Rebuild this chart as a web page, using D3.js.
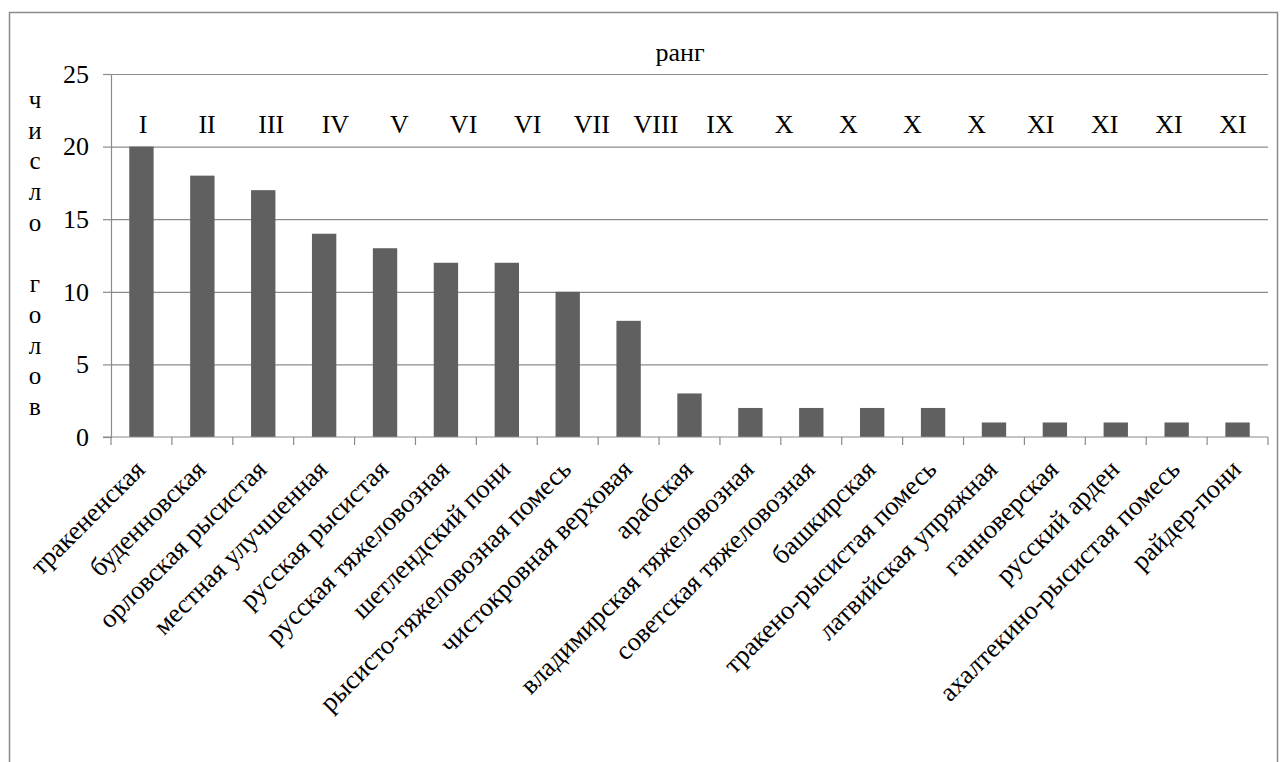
<!DOCTYPE html>
<html>
<head>
<meta charset="utf-8">
<script src="https://cdn.jsdelivr.net/npm/d3@7"></script>
<style>
    svg text { font-family: Liberation Serif, Tinos, serif; }
</style>
</head>
<body style="margin:0">
<script>
// породы лошадей
const breeds = ["тракененская", "буденновская", "орловская рысистая", "местная улучшенная",
    "русская рысистая", "русская тяжеловозная", "шетлендский пони", "рысисто-тяжеловозная помесь",
    "чистокровная верховая", "арабская", "владимирская тяжеловозная", "советская тяжеловозная",
    "башкирская", "тракено-рысистая помесь", "латвийская упряжная", "ганноверская",
    "русский арден", "ахалтекино-рысистая помесь", "райдер-пони"];
const heads = [20, 18, 17, 14, 13, 12, 12, 10, 8, 3, 2, 2, 2, 2, 1, 1, 1, 1, 1];
// строка рангов над столбцами (как напечатано)
const ranks = ["I", "II", "III", "IV", "V", "VI", "VI", "VII", "VIII", "IX",
    "X", "X", "X", "X", "XI", "XI", "XI", "XI"];
const yTicks = [0, 5, 10, 15, 20, 25];
const yLabel = "число голов";
const title = "ранг";

const W = 1286, H = 762;
const fontName = "serif";
let margin = {top: 74, right: 18, bottom: 325, left: 111},
    width = W - margin.left - margin.right,
    height = H - margin.top - margin.bottom;

let svg = d3.select("body")
    .append("svg")
        .attr("width", W)
        .attr("height", H);

// chart border
svg.append("rect")
    .attr("x", 9.5).attr("y", 12.5)
    .attr("width", 1268).attr("height", 800)
    .attr("fill", "none")
    .attr("stroke", "#8a8a8a")
    .attr("stroke-width", 1.5);

let g = svg.append("g")
    .attr("transform", "translate(" + margin.left + "," + margin.top + ")");

const x = d3.scaleBand()
    .domain(breeds)
    .range([0, width])
    .paddingInner(0.6)
    .paddingOuter(0.3);

const xb = d3.scaleBand().domain(breeds).range([0, width]);

const y = d3.scaleLinear()
    .domain([0, 25])
    .range([height, 0]);

// gridlines
g.append("g")
    .selectAll("line")
    .data(yTicks.filter(d => d > 0))
    .join("line")
        .attr("x1", 0).attr("x2", width)
        .attr("y1", d => y(d) + 0.5).attr("y2", d => y(d) + 0.5)
        .attr("stroke", "#8c8c8c")
        .attr("stroke-width", 1.2);

// bars
g.append("g")
    .selectAll("rect")
    .data(heads)
    .join("rect")
        .attr("x", (d, i) => x(breeds[i]))
        .attr("y", d => y(d))
        .attr("width", x.bandwidth())
        .attr("height", d => height - y(d))
        .attr("fill", "#606060");

// Y axis
let yAxis = g.append("g")
    .call(d3.axisLeft(y).tickValues(yTicks).tickSize(8).tickPadding(14))
    .attr("font-family", null);
yAxis.selectAll("line, path").attr("stroke", "#8a8a8a").attr("stroke-width", 1.2);
yAxis.selectAll("text")
    .attr("fill", "#000")
    .attr("font-family", fontName)
    .attr("font-size", 26);

// X axis: ticks between categories
let xAxis = g.append("g")
    .attr("transform", "translate(0," + height + ")");
xAxis.append("line")
    .attr("x1", -8).attr("x2", width)
    .attr("stroke", "#8a8a8a").attr("stroke-width", 1.2);
xAxis.selectAll(".tk")
    .data(breeds.concat(["end"]))
    .join("line")
        .attr("class", "tk")
        .attr("x1", (d, i) => i < breeds.length ? xb(d) : width)
        .attr("x2", (d, i) => i < breeds.length ? xb(d) : width)
        .attr("y1", 0).attr("y2", 8)
        .attr("stroke", "#8a8a8a").attr("stroke-width", 1.2);
xAxis.selectAll(".lbl")
    .data(breeds)
    .join("text")
        .attr("class", "lbl")
        .attr("text-anchor", "end")
        .attr("transform", d => "translate(" + (xb(d) + xb.bandwidth() / 2 + 5) + ",34) rotate(-45)")
        .attr("font-family", fontName)
        .attr("font-size", 26.5)
        .attr("fill", "#000")
        .text(d => d);

// rank numerals
const r = d3.scalePoint()
    .domain(d3.range(ranks.length))
    .range([143 - margin.left, 1233 - margin.left]);
g.append("g")
    .selectAll("text")
    .data(ranks)
    .join("text")
        .attr("x", (d, i) => r(i))
        .attr("y", 59)
        .attr("text-anchor", "middle")
        .attr("font-family", fontName)
        .attr("font-size", 26)
        .attr("fill", "#000")
        .text(d => d);

// title
svg.append("text")
    .attr("x", 680).attr("y", 61)
    .attr("text-anchor", "middle")
    .attr("font-family", fontName)
    .attr("font-size", 26)
    .attr("fill", "#000")
    .text(title);

// vertical letters of Y label
const letters = yLabel.split("");
const ly = d3.scalePoint()
    .domain(d3.range(letters.length))
    .range([100, 407]);
svg.append("g")
    .selectAll("text")
    .data(letters)
    .join("text")
        .attr("x", 35)
        .attr("y", (d, i) => ly(i))
        .attr("dy", "0.32em")
        .attr("text-anchor", "middle")
        .attr("font-family", fontName)
        .attr("font-size", 25)
        .attr("fill", "#000")
        .text(d => d);
</script>
</body>
</html>
